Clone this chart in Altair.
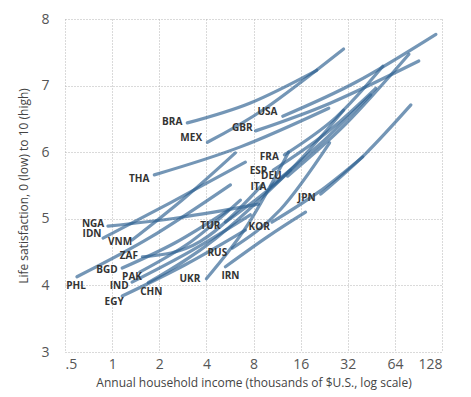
import altair as alt
import pandas as pd

countries = ["USA","GBR","BRA","MEX","THA","FRA","ESP","DEU","ITA","JPN","KOR","TUR","RUS",
             "IRN","UKR","NGA","IDN","VNM","ZAF","BGD","PAK","IND","CHN","EGY","PHL"]

# income (thousands US$) at start, middle and end of each country's curve
inc_start = [12.3, 8.24, 3.02, 4.06, 1.86, 12.6, 10.7, 13.2, 10.3, 21.5, 10.5, 5.29, 5.86,
             5.29, 4.0, 0.94, 0.875, 1.34, 1.56, 1.16, 1.5, 1.34, 1.7, 1.16, 0.596]
inc_mid = [36, 24.9, 7.64, 9.54, 6.6, 26.8, 23.1, 31.0, 20.8, 41.7, 20.8, 12.8, 11.9,
           9.97, 7.3, 2.72, 2.35, 2.93, 3.66, 2.53, 3.2, 3.2, 4.57, 2.93, 1.75]
inc_end = [117, 91, 20.3, 30.1, 24.2, 53.6, 48.3, 78.7, 44.9, 81, 39.9, 30.1, 24.5,
           17.2, 13.4, 8.6, 7.1, 6.13, 9.1, 5.53, 6.6, 7.64, 13.8, 7.1, 5.7]
# life satisfaction at the same three points
sat_start = [6.54, 6.32, 6.44, 6.15, 5.66, 5.96, 5.73, 5.64, 5.49, 5.37, 4.95, 4.95, 4.56,
             4.28, 4.10, 4.89, 4.71, 4.68, 4.43, 4.26, 4.20, 4.05, 4.04, 3.84, 4.13]
sat_mid = [7.05, 6.74, 6.74, 6.66, 6.08, 6.52, 6.28, 6.42, 6.10, 5.98, 5.40, 5.66, 5.14,
           4.74, 4.90, 5.02, 5.24, 5.32, 4.66, 4.64, 4.66, 4.52, 4.70, 4.31, 4.72]
sat_end = [7.77, 7.37, 7.23, 7.55, 6.66, 7.29, 6.96, 7.47, 6.86, 6.71, 5.93, 6.63, 6.14,
           5.10, 6.00, 5.22, 5.85, 5.99, 5.51, 5.13, 5.28, 5.06, 5.73, 4.83, 5.51]

# label anchor positions (data units)
lab_inc = [9.83, 6.79, 2.42, 3.2, 1.49, 10.1, 8.6, 10.4, 8.6, 17.5, 8.7, 4.24, 4.7,
           5.7, 3.14, 0.755, 0.744, 1.125, 1.28, 0.928, 1.34, 1.11, 1.78, 1.03, 0.588]
lab_sat = [6.60, 6.36, 6.45, 6.21, 5.60, 5.93, 5.72, 5.64, 5.48, 5.31, 4.88, 4.89, 4.49,
           4.14, 4.10, 4.92, 4.77, 4.65, 4.44, 4.23, 4.13, 3.99, 3.90, 3.75, 3.99]

x_ticks = [0.5, 1, 2, 4, 8, 16, 32, 64, 128]
y_ticks = [3, 4, 5, 6, 7, 8]

rows = []
for i, c in enumerate(countries):
    for k, (xv, yv) in enumerate([(inc_start[i], sat_start[i]), (inc_mid[i], sat_mid[i]),
                                  (inc_end[i], sat_end[i])]):
        rows.append({"country": c, "order": k, "income": xv, "sat": yv})
lines_df = pd.DataFrame(rows)
labels_df = pd.DataFrame({"country": countries, "income": lab_inc, "sat": lab_sat})

axis_font = "Open Sans"
xscale = alt.Scale(type="log", base=2, domain=[0.5, 128], nice=False)
yscale = alt.Scale(domain=[3, 8], nice=False, zero=False)

x_axis = alt.Axis(values=x_ticks, title="Annual household income (thousands of $U.S., log scale)",
                  labelExpr="datum.value == 0.5 ? '.5' : datum.label",
                  grid=True, gridDash=[1, 2], gridColor="#b5b5b5", domain=False, ticks=False,
                  labelPadding=5, labelFontSize=14, labelColor="#555", labelFont=axis_font,
                  titleFont=axis_font, titleFontSize=12, titleFontWeight="normal",
                  titleColor="#444", titlePadding=6)
y_axis = alt.Axis(values=y_ticks, title="Life satisfaction, 0 (low) to 10 (high)", format="d",
                  grid=True, gridDash=[1, 2], gridColor="#b5b5b5", domain=False, ticks=False,
                  labelPadding=16, labelFontSize=14, labelColor="#555", labelFont=axis_font,
                  titleFont=axis_font, titleFontSize=12, titleFontWeight="normal",
                  titleColor="#444", titlePadding=10)

lines = alt.Chart(lines_df).mark_line(
    interpolate="natural", strokeWidth=3.2, strokeCap="round", color="#2c5f90", opacity=0.66
).encode(
    x=alt.X("income:Q", scale=xscale, axis=x_axis),
    y=alt.Y("sat:Q", scale=yscale, axis=y_axis),
    detail="country:N",
    order="order:Q",
)

labels = alt.Chart(labels_df).mark_text(
    font=axis_font, fontWeight="bold", fontSize=10, color="#333", align="center", baseline="middle"
).encode(
    x=alt.X("income:Q", scale=xscale),
    y=alt.Y("sat:Q", scale=yscale),
    text="country:N",
)

chart = alt.layer(lines, labels).properties(
    width=377, height=333,
    autosize=alt.AutoSizeParams(type="none"),
    padding={"left": 57, "top": 11, "right": 10, "bottom": 40},
).configure_view(stroke=None)

chart.save("out.html", embed_options={"renderer": "svg", "actions": False})
